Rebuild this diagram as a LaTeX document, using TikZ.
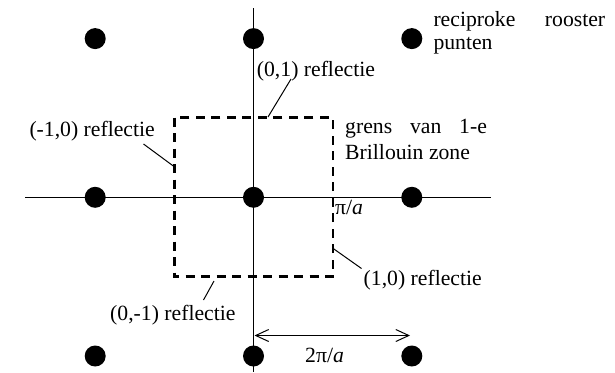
\documentclass[tikz,border=0pt]{standalone}
\usepackage{fontspec}
\setmainfont{Liberation Serif}
\usetikzlibrary{arrows.meta}
\newcommand\tworows[3]{\vtop{\baselineskip=#1\hbox{#2}\hbox{#3}}}
\begin{document}
\begin{tikzpicture}[x=1pt,y=-1pt,
  axis/.style={line width=1.1pt},
  zone/.style={line width=2.6pt, dash pattern=on 9pt off 6.5pt},
  lattice/.style={circle, fill=black, minimum size=21pt, inner sep=0pt},
  lbl/.style={anchor=base west, inner sep=0pt, font=\fontsize{21.7}{24}\selectfont},
  leader/.style={line width=1pt},
  dim/.style={line width=1pt, {Straight Barb[length=13pt,width=12pt]}-{Straight Barb[length=13pt,width=12pt]}}]
\useasboundingbox (0,0) rectangle (615,372);
% axes
\coordinate (xl) at (25,197.3);
\coordinate (xr) at (491,197.3);
\coordinate (yt) at (253.5,8);
\coordinate (yb) at (253.5,372);
\draw[axis] (xl) -- (xr);
\draw[axis] (yt) -- (yb);
% Brillouin zone
\coordinate (bzA) at (174.2,117.5);
\coordinate (bzB) at (332.8,276.5);
\draw[zone] (bzA) rectangle (bzB);
% lattice points
\foreach \i/\n in {-1/l,0/c,1/r}{
  \foreach \j/\m in {-1/t,0/m,1/b}{
    \node[lattice] (p\n\m) at (253.5+158.3*\i,197.3+158.7*\j) {};
  }
}
% dimension arrow
\coordinate (al) at (254.5,335.5);
\coordinate (ar) at (410,335.5);
\draw[dim] (al) -- (ar);
% labels
\node[lbl] (rr) at (433.3,26) {\tworows{24pt}{\makebox[171.7pt][s]{reciproke rooster}}{punten}};
\node[lbl] (gz) at (345,133.3) {\tworows{26.5pt}{\makebox[141.7pt][s]{grens van 1-e}}{Brillouin zone}};
\node[lbl] (l01) at (256.7,76) {(0,1) reflectie};
\node[lbl] (lm10) at (29.3,136) {(-1,0) reflectie};
\node[lbl] (l0m1) at (110,320) {(0,-1) reflectie};
\node[lbl] (l10) at (363.5,285) {(1,0) reflectie};
\node[lbl] (pia) at (335,214) {π/\textit{a}};
\node[lbl] (tpia) at (305,362.5) {2π/\textit{a}};
% leader lines
\coordinate (c01a) at (291,79);
\coordinate (c01b) at (268,117);
\draw[leader] (c01a) -- (c01b);
\coordinate (cm10a) at (143.5,144);
\coordinate (cm10b) at (173.3,166);
\draw[leader] (cm10a) -- (cm10b);
\coordinate (c0m1a) at (214,281);
\coordinate (c0m1b) at (203.5,300);
\draw[leader] (c0m1a) -- (c0m1b);
\coordinate (c10a) at (332.5,248);
\coordinate (c10b) at (361.5,268.5);
\draw[leader] (c10a) -- (c10b);
\end{tikzpicture}
\end{document}
